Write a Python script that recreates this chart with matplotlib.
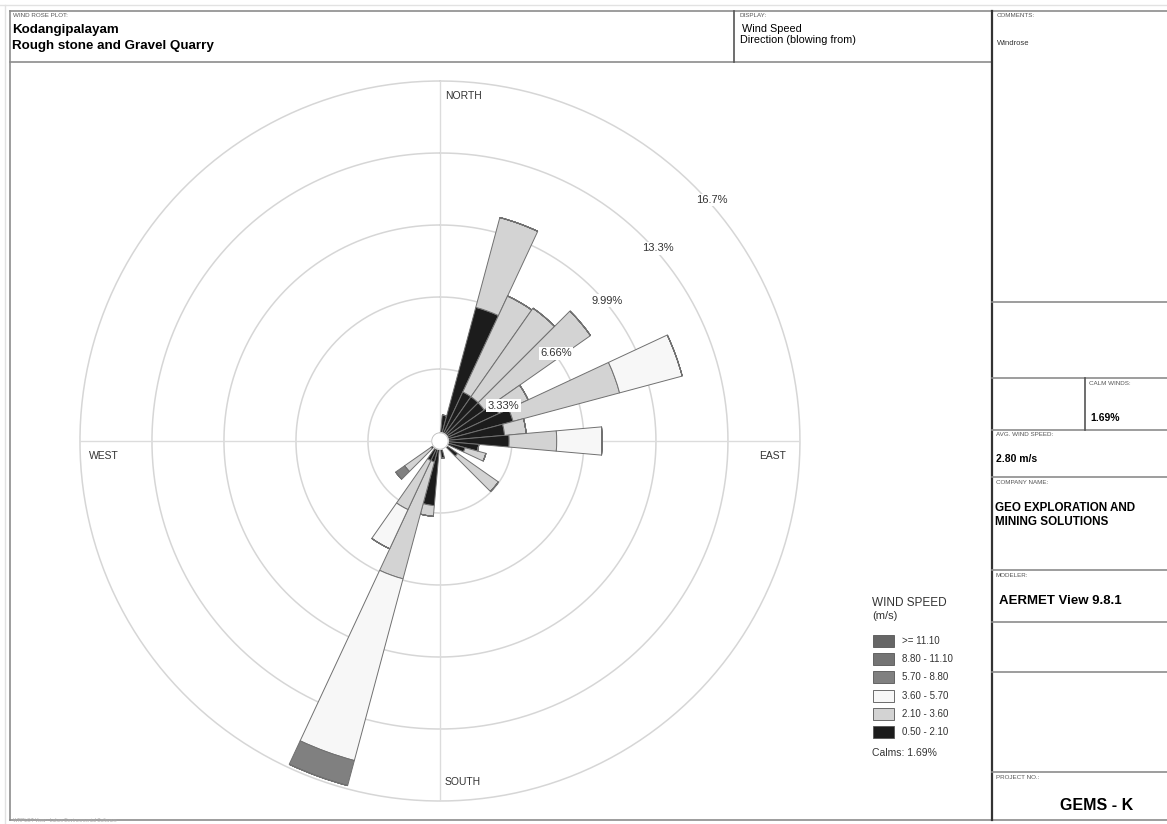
import numpy as np
import matplotlib.pyplot as plt
from matplotlib.patches import Rectangle

plt.rcParams['font.family'] = ['Liberation Sans', 'DejaVu Sans']

# wind speed classes (m/s), innermost first
classes = ['0.50 - 2.10', '2.10 - 3.60', '3.60 - 5.70', '5.70 - 8.80', '8.80 - 11.10', '>= 11.10']
colors = ['#1c1c1c', '#d3d3d3', '#f7f7f7', '#808080', '#747474', '#666666']

# direction the wind blows from (deg) and frequency (%) of each class
directions = [10, 20, 30, 40, 50, 60, 70, 80, 90, 100, 110, 130, 170, 190, 200, 210, 230]
spd_050_210 = [1.2, 6.4, 2.5, 2.5, 2.5, 3.0, 3.5, 3.0, 3.2, 1.8, 1.2, 1.0, 0.8, 3.0, 1.0, 1.0, 0.5]
spd_210_360 = [0.0, 4.3, 4.9, 5.0, 6.0, 1.5, 5.1, 1.0, 2.2, 0.0, 1.0, 2.3, 0.0, 0.5, 5.6, 2.5, 1.5]
spd_360_570 = [0.0, 0.0, 0.0, 0.0, 0.0, 0.0, 3.0, 0.0, 2.1, 0.0, 0.0, 0.0, 0.0, 0.0, 8.7, 2.0, 0.0]
spd_570_880 = [0.0, 0.0, 0.0, 0.0, 0.0, 0.0, 0.0, 0.0, 0.0, 0.0, 0.0, 0.0, 0.0, 0.0, 1.2, 0.0, 0.5]
spd_880_1110 = [0.0] * len(directions)
spd_ge_1110 = [0.0] * len(directions)

rings = [3.33, 6.66, 9.99, 13.32, 16.65]
ring_labels = ['3.33%', '6.66%', '9.99%', '13.3%', '16.7%']
calms = '1.69%'
avg_speed = '2.80 m/s'

fig = plt.figure(figsize=(11.67, 8.24), dpi=100)

# page layout in pixel units
bg = fig.add_axes([0, 0, 1, 1])
bg.set_xlim(0, 1167)
bg.set_ylim(824, 0)
bg.axis('off')

frame = '#8c8c8c'
bg.plot([0, 1167], [5, 5], color='#e2e2e2', lw=1)
bg.plot([5, 5], [5, 824], color='#e2e2e2', lw=1)
bg.plot([10, 1167], [11, 11], color=frame, lw=1.2)
bg.plot([10, 10], [11, 820], color=frame, lw=1.2)
bg.plot([10, 1167], [820, 820], color=frame, lw=1.2)
bg.plot([10, 992], [62, 62], color=frame, lw=1.2)
bg.plot([734, 734], [11, 62], color='#555555', lw=1.2)
bg.plot([992, 992], [11, 820], color='#333333', lw=1.6)
for y in [302, 378, 430, 477, 570, 622, 672, 772]:
    bg.plot([992, 1167], [y, y], color=frame, lw=1.2)
bg.plot([1085, 1085], [378, 430], color='#555555', lw=1.2)

small = dict(fontsize=4.5, color='#555555')
bg.text(13, 17, 'WIND ROSE PLOT:', **small)
bg.text(12, 30, 'Kodangipalayam', fontsize=9.6, fontweight='bold', va='center')
bg.text(12, 46, 'Rough stone and Gravel Quarry', fontsize=9.6, fontweight='bold', va='center')
bg.text(739, 17, 'DISPLAY:', **small)
bg.text(742, 29, 'Wind Speed', fontsize=7.8, va='center')
bg.text(740, 40, 'Direction (blowing from)', fontsize=7.8, va='center')
bg.text(997, 17, 'COMMENTS:', **small)
bg.text(997, 43, 'Windrose', fontsize=5.5, va='center', color='#333333')
bg.text(1089, 385, 'CALM WINDS:', **small)
bg.text(1090, 418, calms, fontsize=7.5, fontweight='bold', va='center')
bg.text(996, 436, 'AVG. WIND SPEED:', **small)
bg.text(996, 459, avg_speed, fontsize=7.5, fontweight='bold', va='center')
bg.text(996, 484, 'COMPANY NAME:', **small)
bg.text(995, 508, 'GEO EXPLORATION AND', fontsize=8.4, fontweight='bold', va='center')
bg.text(995, 522, 'MINING SOLUTIONS', fontsize=8.4, fontweight='bold', va='center')
bg.text(996, 577, 'MODELER:', **small)
bg.text(999, 601, 'AERMET View 9.8.1', fontsize=9.5, fontweight='bold', va='center')
bg.text(996, 779, 'PROJECT NO.:', **small)
bg.text(1097, 805, 'GEMS - K', fontsize=11.5, fontweight='bold', va='center', ha='center')
bg.text(13, 823, 'WRPLOT View - Lakes Environmental Software', fontsize=3.5, color='#aaaaaa', va='bottom')

# compass labels
bg.text(463, 96, 'NORTH', fontsize=7.5, ha='center', va='center', color='#333333')
bg.text(463, 782, 'SOUTH', fontsize=7.5, ha='center', va='center', color='#333333')
bg.text(104, 456, 'WEST', fontsize=7.5, ha='center', va='center', color='#333333')
bg.text(773, 456, 'EAST', fontsize=7.5, ha='center', va='center', color='#333333')

# legend
bg.text(872, 603, 'WIND SPEED', fontsize=8.5, va='center', color='#333333')
bg.text(872, 616, '(m/s)', fontsize=8, va='center', color='#333333')
for i, (lab, c) in enumerate(zip(classes[::-1], colors[::-1])):
    y = 641 + i * 18.2
    bg.add_patch(Rectangle((873, y - 6), 21, 12, facecolor=c, edgecolor='#555555', lw=0.6))
    bg.text(902, y, lab, fontsize=7, va='center', color='#333333')
bg.text(872, 753, 'Calms: ' + calms, fontsize=7.5, va='center', color='#333333')

# rose
ax = fig.add_axes([0.0685, 0.0279, 0.617, 0.8738], projection='polar')
ax.set_theta_zero_location('N')
ax.set_theta_direction(-1)
ax.set_ylim(0, rings[-1])
ax.axis('off')
ax.patch.set_alpha(0)

t = np.linspace(0, 2 * np.pi, 400)
for r in rings:
    ax.plot(t, np.full_like(t, r), color='#d6d6d6', lw=1.1, zorder=1, clip_on=False)
for a in [0, 90, 180, 270]:
    ax.plot([np.radians(a)] * 2, [0, rings[-1]], color='#dcdcdc', lw=1, zorder=1)

theta = np.radians(directions)
width = np.radians(10)
bottom = np.zeros(len(directions))
for vals, c in zip([spd_050_210, spd_210_360, spd_360_570, spd_570_880, spd_880_1110, spd_ge_1110], colors):
    vals = np.array(vals)
    ax.bar(theta, vals, width=width, bottom=bottom, color=c, edgecolor='#707070', lw=0.7, zorder=3)
    bottom += vals

# calm circle
ax.fill(t, np.full_like(t, 0.38), color='white', zorder=5)
ax.plot(t, np.full_like(t, 0.38), color='#bbbbbb', lw=0.6, zorder=5)

label_angles = [61, 53, 50, 48.5, 48.5]
for r, lab, a in zip(rings, ring_labels, label_angles):
    ax.text(np.radians(a), r * 1.01, lab, fontsize=8, ha='center', va='center', color='#333333',
            bbox=dict(facecolor='white', edgecolor='none', pad=1), zorder=6)

fig.savefig('out.png', dpi=100)
